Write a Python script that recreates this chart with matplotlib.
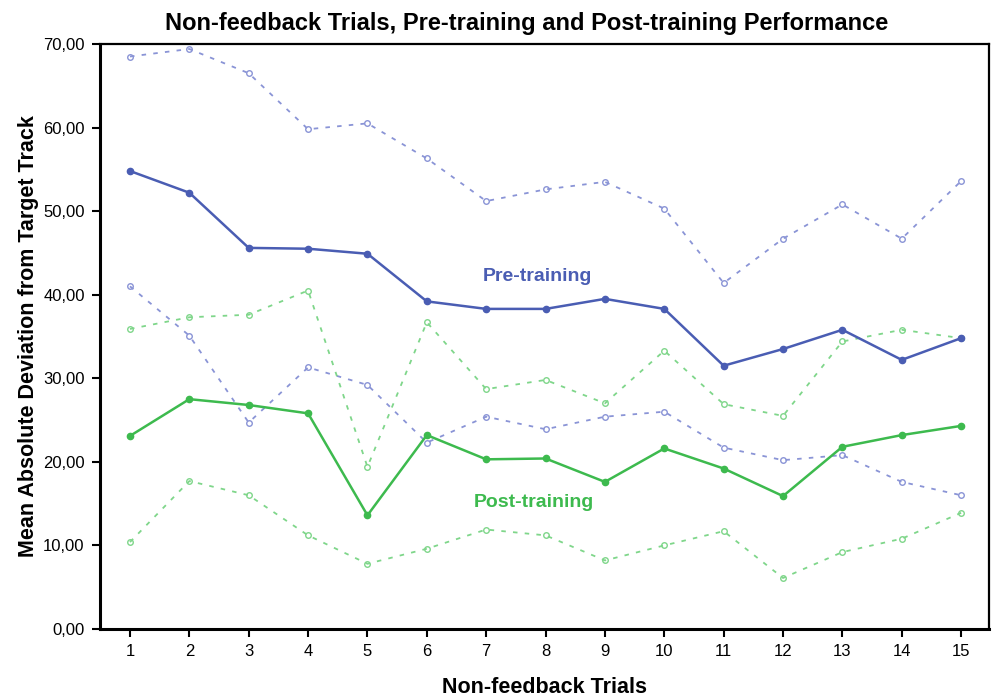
import numpy as np
import matplotlib
matplotlib.use("Agg")
import matplotlib.pyplot as plt
from matplotlib.ticker import FuncFormatter

plt.rcParams['font.family'] = ['Liberation Sans', 'DejaVu Sans']

trials = list(range(1, 16))

pre_mean = [54.8, 52.2, 45.6, 45.5, 44.9, 39.2, 38.3, 38.3, 39.5, 38.3, 31.5, 33.5, 35.8, 32.2, 34.8]
pre_upper = [68.5, 69.4, 66.5, 59.8, 60.5, 56.3, 51.2, 52.6, 53.5, 50.3, 41.4, 46.7, 50.8, 46.7, 53.6]
pre_lower = [41.0, 35.1, 24.7, 31.3, 29.2, 22.3, 25.4, 23.9, 25.4, 26.0, 21.7, 20.2, 20.8, 17.6, 16.0]

post_mean = [23.1, 27.5, 26.8, 25.8, 13.6, 23.2, 20.3, 20.4, 17.6, 21.6, 19.2, 15.9, 21.8, 23.2, 24.3]
post_upper = [35.9, 37.3, 37.6, 40.5, 19.4, 36.7, 28.7, 29.8, 27.0, 33.3, 26.9, 25.5, 34.4, 35.8, 34.8]
post_lower = [10.4, 17.7, 16.0, 11.2, 7.8, 9.6, 11.9, 11.2, 8.2, 10.0, 11.7, 6.1, 9.2, 10.8, 13.9]

blue = "#4a5db3"
green = "#3dba4e"
blue_light = "#8a94d6"
green_light = "#7fd68a"

fig = plt.figure(figsize=(9.96, 6.97), dpi=100)
ax = fig.add_axes([0.1004, 0.0976, 0.8926, 0.8393])

# confidence bounds (dashed, hollow markers)
for vals, c in [(pre_upper, blue_light), (pre_lower, blue_light),
                (post_upper, green_light), (post_lower, green_light)]:
    ax.plot(trials, vals, color=c, lw=1.3, ls=(0, (2.5, 4)), marker='o', ms=4,
            mfc='none', mec=c, mew=1.0)

# means
ax.plot(trials, pre_mean, color=blue, lw=1.8, marker='o', ms=4.5, mfc=blue, mec=blue)
ax.plot(trials, post_mean, color=green, lw=1.8, marker='o', ms=4.5, mfc=green, mec=green)

ax.text(7.87, 42.2, "Pre-training", color=blue, fontsize=14, fontweight='bold',
        ha='center', va='center')
ax.text(7.81, 15.1, "Post-training", color=green, fontsize=14, fontweight='bold',
        ha='center', va='center')

ax.set_xlim(0.495, 15.47)
ax.set_ylim(0, 70)
ax.set_xticks(trials)
ax.set_yticks(np.arange(0, 71, 10))
ax.yaxis.set_major_formatter(FuncFormatter(lambda v, p: f"{v:.2f}".replace(".", ",")))
ax.tick_params(direction='out', length=6, width=1.5, labelsize=12, pad=5)

for s in ['left', 'bottom']:
    ax.spines[s].set_linewidth(2.2)
for s in ['top', 'right']:
    ax.spines[s].set_linewidth(1.6)

ax.set_title("Non-feedback Trials, Pre-training and Post-training Performance",
             fontsize=17, fontweight='bold', pad=10, x=0.48)
ax.set_xlabel("Non-feedback Trials", fontsize=15.5, fontweight='bold', labelpad=13)
ax.set_ylabel("Mean Absolute Deviation from Target Track", fontsize=15.5,
              fontweight='bold', labelpad=3)

fig.savefig("out.png", dpi=100)
